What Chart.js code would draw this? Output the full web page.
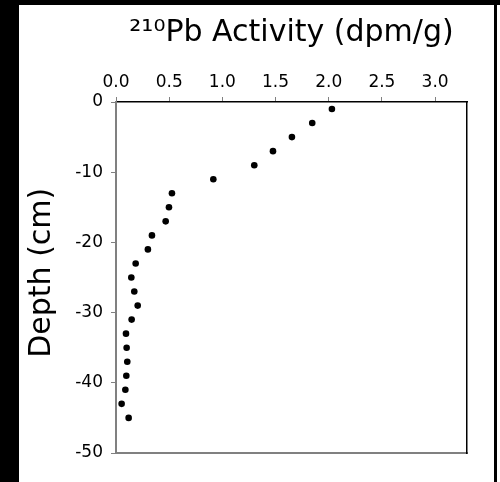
<!DOCTYPE html>
<html><head><meta charset="utf-8">
<script src="https://cdn.jsdelivr.net/npm/chart.js@4.4.1/dist/chart.umd.min.js"></script>
<style>
html,body{margin:0;padding:0;background:#fff;}
#wrap{position:relative;width:500px;height:482px;overflow:hidden;background:#fff;}
#c{position:absolute;left:0;top:0;}
.bar{position:absolute;background:#000;}
</style></head><body>
<div id="wrap">
<canvas id="c" width="500" height="482"></canvas>
<div class="bar" style="left:0;top:0;width:19px;height:482px"></div>
<div class="bar" style="left:0;top:0;width:500px;height:5px"></div>
<div class="bar" style="left:494px;top:0;width:2.5px;height:482px"></div>
</div>
<script>
const depths = [-1,-3,-5,-7,-9,-11,-13,-15,-17,-19,-21,-23,-25,-27,-29,-31,-33,-35,-37,-39,-41,-43,-45];
const activity = [2.03,1.845,1.654,1.476,1.30,0.915,0.526,0.498,0.467,0.338,0.30,0.185,0.144,0.172,0.204,0.147,0.094,0.100,0.106,0.097,0.088,0.053,0.119];
const xTicks = ['0.0','0.5','1.0','1.5','2.0','2.5','3.0'];
const yTicks = ['-50','-40','-30','-20','-10','0'];
const titleText = '²¹⁰Pb Activity (dpm/g)';
const yTitle = ' Depth (cm)';

Chart.defaults.font.family = "'DejaVu Sans', sans-serif";

const points = activity.map((a, i) => ({x: a, y: depths[i]}));

new Chart(document.getElementById('c'), {
  type: 'scatter',
  data: {
    datasets: [{
      data: points,
      backgroundColor: '#000',
      borderColor: '#000',
      borderWidth: 0,
      pointRadius: 3.3,
      pointHoverRadius: 3.3
    }]
  },
  options: {
    responsive: false,
    animation: false,
    events: [],
    layout: {padding: {left: 0, right: 33, top: 0, bottom: 29}},
    plugins: {
      legend: {display: false},
      tooltip: {enabled: false},
      title: {
        display: true, text: titleText, fullSize: false,
        font: {size: 30, weight: 'normal'}, color: '#000',
        padding: {top: 15, bottom: 0}
      }
    },
    scales: {
      x: {
        type: 'linear', position: 'top', min: 0, max: 3.3,
        ticks: {
          stepSize: 0.5, includeBounds: false, padding: 4, color: '#000',
          font: {size: 17}, maxRotation: 0, autoSkip: false,
          callback: (v, i) => xTicks[i] !== undefined ? xTicks[i] : v.toFixed(1)
        },
        grid: {drawOnChartArea: false, drawTicks: true, tickLength: 5, color: '#808080', lineWidth: 1},
        border: {display: true, color: '#000', width: 1.5},
        afterFit(s) { s.height = 51; }
      },
      y: {
        type: 'linear', position: 'left', min: -50, max: 0,
        ticks: {
          stepSize: 10, padding: 8, color: '#000', font: {size: 17},
          callback: (v) => { const t = yTicks.find(s => Number(s) === v); return t !== undefined ? t : String(v); }
        },
        grid: {drawOnChartArea: false, tickLength: 5, color: '#808080', lineWidth: 1},
        border: {display: true, color: '#808080', width: 2},
        title: {display: true, text: yTitle, font: {size: 30}, color: '#000', padding: {top: 24, bottom: 0}},
        afterFit(s) { s.width = 116; }
      },
      x2: {
        type: 'linear', position: 'bottom', display: true,
        ticks: {display: false},
        grid: {drawOnChartArea: false, drawTicks: false},
        border: {display: true, color: '#808080', width: 2},
        afterFit(s) { s.height = 0; }
      },
      y2: {
        type: 'linear', position: 'right', display: true,
        ticks: {display: false},
        grid: {drawOnChartArea: false, drawTicks: false},
        border: {display: true, color: '#000', width: 1.5},
        afterFit(s) { s.width = 0; }
      }
    }
  }
});
</script>
</body></html>
